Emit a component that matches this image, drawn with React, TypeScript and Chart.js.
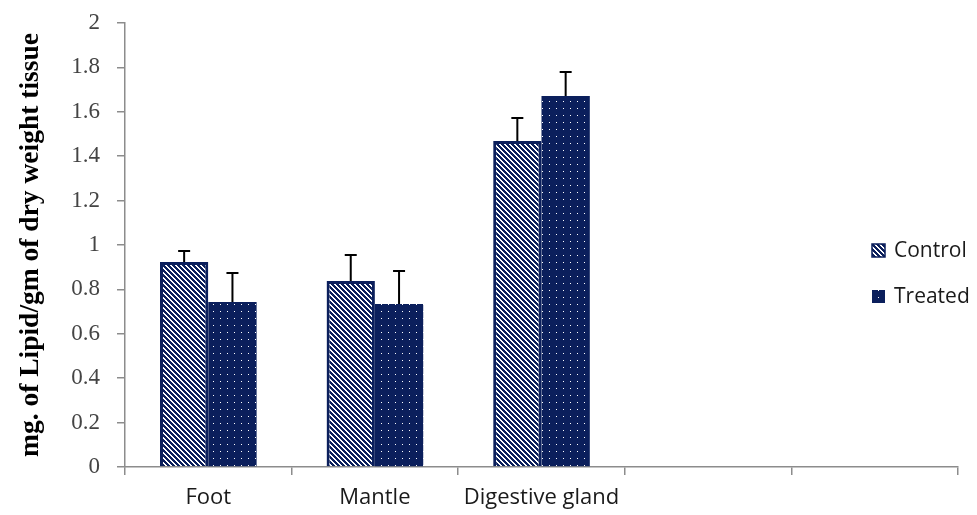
import React, { useEffect, useRef } from "react";
import { Chart, registerables } from "chart.js";

Chart.register(...registerables);

const categories = ["Foot", "Mantle", "Digestive gland", "", ""];
const controlValues = [0.923, 0.838, 1.468, null, null];
const treatedValues = [0.743, 0.734, 1.671, null, null];
const controlErrors = [0.05, 0.117, 0.104, 0, 0];
const treatedErrors = [0.131, 0.149, 0.108, 0, 0];
const seriesNames = ["Control", "Treated"];

const NAVY = "#0b1f5c";
const AXIS_GRAY = "#8c8c8c";

function makeHatch(): CanvasPattern | string {
  const n = 5;
  const c = document.createElement("canvas");
  c.width = n;
  c.height = n;
  const g = c.getContext("2d");
  if (!g) return NAVY;
  g.fillStyle = NAVY;
  g.fillRect(0, 0, n, n);
  g.fillStyle = "#ffffff";
  for (let y = 0; y < n; y++) {
    for (let x = 0; x < n; x++) {
      const d = (((x - y) % n) + n) % n;
      if (d === 0 || d === 1) g.fillRect(x, y, 1, 1);
    }
  }
  return g.createPattern(c, "repeat") || NAVY;
}

function makeDots(): CanvasPattern | string {
  const c = document.createElement("canvas");
  c.width = 7;
  c.height = 7;
  const g = c.getContext("2d");
  if (!g) return NAVY;
  g.fillStyle = NAVY;
  g.fillRect(0, 0, 7, 7);
  g.fillStyle = "#ffffff";
  g.fillRect(3, 3, 1, 1);
  return g.createPattern(c, "repeat") || NAVY;
}

export default function App() {
  const ref = useRef<HTMLCanvasElement | null>(null);

  useEffect(() => {
    document.body.style.margin = "0";
    const canvas = ref.current;
    if (!canvas) return;
    const hatch = makeHatch();
    const dots = makeDots();
    const fills = [hatch, dots];
    const errs = [controlErrors, treatedErrors];

    const errorBars = {
      id: "errorBars",
      afterDatasetsDraw(chart: any) {
        const ctx = chart.ctx;
        const ys = chart.scales.y;
        ctx.save();
        ctx.strokeStyle = "#000000";
        ctx.lineWidth = 2;
        chart.data.datasets.forEach((ds: any, di: number) => {
          const meta = chart.getDatasetMeta(di);
          meta.data.forEach((el: any, i: number) => {
            const v = ds.data[i];
            if (v == null) return;
            const e = errs[di][i];
            const top = ys.getPixelForValue(v + e);
            ctx.beginPath();
            ctx.moveTo(el.x, el.y);
            ctx.lineTo(el.x, top);
            ctx.moveTo(el.x - 6, top);
            ctx.lineTo(el.x + 6, top);
            ctx.stroke();
          });
        });
        ctx.restore();
      },
    };

    const legendPlugin = {
      id: "customLegend",
      afterDraw(chart: any) {
        const ctx = chart.ctx;
        ctx.save();
        const x0 = chart.width - 105;
        const ys = [251, 297];
        seriesNames.forEach((name, i) => {
          const y = ys[i];
          ctx.fillStyle = fills[i] as any;
          ctx.fillRect(x0, y - 7, 13, 13);
          if (i === 0) {
            ctx.strokeStyle = NAVY;
            ctx.lineWidth = 1.5;
            ctx.strokeRect(x0, y - 7, 13, 13);
          }
          ctx.fillStyle = "#1a1a1a";
          ctx.font = "21px 'Open Sans', sans-serif";
          ctx.textBaseline = "middle";
          ctx.textAlign = "left";
          ctx.fillText(name, x0 + 22, y);
        });
        ctx.restore();
      },
    };

    const chart = new Chart(canvas, {
      type: "bar",
      data: {
        labels: categories,
        datasets: [
          {
            label: seriesNames[0],
            data: controlValues as any,
            backgroundColor: hatch as any,
            borderColor: NAVY,
            borderWidth: 3,
            categoryPercentage: 0.58,
            barPercentage: 1.0,
          },
          {
            label: seriesNames[1],
            data: treatedValues as any,
            backgroundColor: dots as any,
            borderWidth: 0,
            categoryPercentage: 0.58,
            barPercentage: 1.0,
          },
        ],
      },
      options: {
        responsive: false,
        animation: false,
        layout: { padding: { left: 6, top: 23, right: 19, bottom: 0 } },
        plugins: {
          legend: { display: false },
          tooltip: { enabled: false },
        },
        scales: {
          x: {
            grid: {
              offset: true,
              drawOnChartArea: false,
              drawTicks: true,
              tickLength: 8,
              color: AXIS_GRAY,
              lineWidth: 1.5,
            },
            border: { color: AXIS_GRAY, width: 1.5 },
            ticks: {
              color: "#1a1a1a",
              padding: 10,
              maxRotation: 0,
              autoSkip: false,
              font: { family: "'Open Sans', sans-serif", size: 22 },
            },
            afterFit: (s: any) => {
              s.height = 48;
            },
          },
          y: {
            min: 0,
            max: 2,
            grid: {
              drawOnChartArea: false,
              drawTicks: true,
              tickLength: 8,
              color: AXIS_GRAY,
              lineWidth: 1.5,
            },
            border: { color: AXIS_GRAY, width: 1.5 },
            ticks: {
              stepSize: 0.2,
              color: "#444444",
              padding: 17,
              font: { family: "'Liberation Serif', 'DejaVu Serif', serif", size: 23 },
              callback: (v: any) => String(Number(Number(v).toFixed(1))),
            },
            title: {
              display: true,
              text: "mg. of Lipid/gm of dry weight tissue",
              color: "#000000",
              padding: { top: 8, bottom: 0 },
              font: { family: "'Liberation Serif', 'DejaVu Serif', serif", size: 27.5, weight: "bold" },
            },
            afterFit: (s: any) => {
              s.width = 119;
              s.paddingTop = 0;
              s.paddingBottom = 0;
            },
          },
        },
      },
      plugins: [errorBars, legendPlugin],
    });

    return () => chart.destroy();
  }, []);

  return (
    <div style={{ width: 977, height: 515 }}>
      <canvas ref={ref} width={977} height={515} />
    </div>
  );
}
